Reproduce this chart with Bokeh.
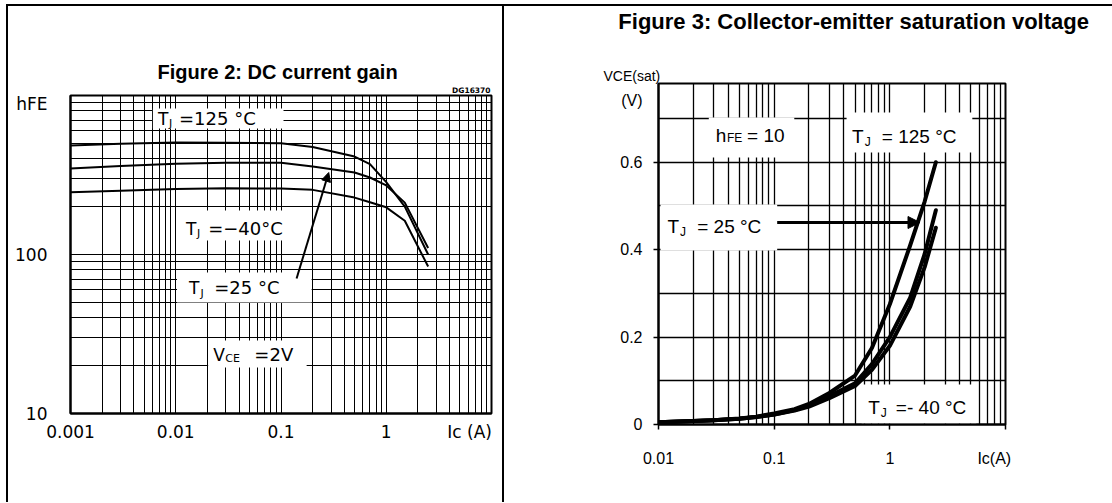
import math
from bokeh.plotting import figure
from bokeh.layouts import row, column
from bokeh.models import (Range1d, FixedTicker, NumeralTickFormatter, Label, Arrow, NormalHead,
                          Spacer, Title)
from bokeh.embed import file_html
from bokeh.resources import INLINE

# ---------------- Figure 2: DC current gain ----------------
ic_gain = [0.001, 0.003, 0.01, 0.03, 0.1, 0.2, 0.5, 0.7, 1.0, 1.5, 2.5]
hfe_125 = [485, 498, 506, 505, 500, 475, 413, 370, 285, 200, 100]
hfe_25 = [347, 360, 372, 377, 378, 358, 328, 305, 272, 212, 110]
hfe_m40 = [246, 252, 258, 261, 260, 255, 228, 213, 198, 163, 84]
gain_x_ticks = [0.001, 0.01, 0.1, 1]
gain_y_ticks = [10, 100]
gain_x_name = ("Ic (A)", 6.2)      # axis name placed on the tick row
gain_y_name = ("hFE", 890)

# ---------------- Figure 3: Collector-emitter saturation voltage ----------------
ic_sat = [0.01, 0.02, 0.03, 0.05, 0.07, 0.1, 0.15, 0.2, 0.3, 0.5, 0.7, 1.0, 1.5, 2.0, 2.5]
vce_25 = [0.005, 0.008, 0.010, 0.014, 0.018, 0.025, 0.035, 0.047, 0.072, 0.112, 0.175, 0.275, 0.41, 0.51, 0.60]
vce_125 = [0.005, 0.008, 0.010, 0.013, 0.017, 0.023, 0.033, 0.044, 0.065, 0.094, 0.138, 0.20, 0.29, 0.39, 0.49]
vce_m40 = [0.005, 0.008, 0.010, 0.013, 0.017, 0.023, 0.032, 0.041, 0.060, 0.088, 0.125, 0.18, 0.27, 0.36, 0.45]
sat_x_ticks = [0.01, 0.1, 1, 10]
sat_y_ticks = [0, 0.2, 0.4, 0.6]
sat_y_minor = [0.1, 0.3, 0.5, 0.7]
sat_x_name = ("Ic(A)", 8)
sat_y_name = ("(V)", 0.74)

# ---------------- layout (page pixels) ----------------
LEFT_GAP, TOP_GAP, BW = 6, 4, 2
CW1, CW2 = 494, 608         # canvas widths (CSS border is inside the element box)
PAGE_H = 502
S_TOP = TOP_GAP + BW        # first canvas row on the page
S1_BOT = 83                 # bottom of left title strip
S2_BOT = 64                 # bottom of right title strip
F1 = (70, 489, 95, 413)     # frame of left plot: left, right, top, bottom
F2 = (658, 1003, 83, 424)   # frame of right plot
O1X = LEFT_GAP + BW         # canvas left of the left column
O2X = O1X + CW1 + BW        # canvas left of the right column
X1, Y1 = (0.001, 10.0), (10.0, 1000.0)
X2, Y2 = (0.01, 10.0), (0.0, 0.78)

ARIAL = "Liberation Sans"
WIDE = "DejaVu Sans"
MID = {ARIAL: 0.35, WIDE: 0.346}   # baseline -> middle of text box, in em


def no_align(p):
    try:
        p.frame_align = False
    except Exception:
        pass


def conv1(px, py):
    l, r, t, b = F1
    x = 10 ** (math.log10(X1[0]) + (px - l) / (r - l) * (math.log10(X1[1]) - math.log10(X1[0])))
    y = 10 ** (math.log10(Y1[0]) + (b - py) / (b - t) * (math.log10(Y1[1]) - math.log10(Y1[0])))
    return x, y


def conv2(px, py):
    l, r, t, b = F2
    x = 10 ** (math.log10(X2[0]) + (px - l) / (r - l) * (math.log10(X2[1]) - math.log10(X2[0])))
    y = Y2[0] + (b - py) / (b - t) * (Y2[1] - Y2[0])
    return x, y


def lab(p, conv, px, py, text, size, font, bold=False, align="left", color="black"):
    # py is the wanted baseline; the label is anchored at the middle of its text box
    x, y = conv(px, py - MID[font] * size)
    p.add_layout(Label(x=x, y=y, text=text, text_font=font, text_font_size=f"{size}px",
                       text_font_style="bold" if bold else "normal", text_align=align,
                       text_baseline="middle", text_color=color))


def box(p, conv, x0, y0, x1, y1):
    l, t = conv(x0, y0)
    r, b = conv(x1, y1)
    p.quad(left=[l], right=[r], top=[t], bottom=[b], fill_color="white", line_color=None)


def strip(cw, bottom, ox):
    h = bottom - S_TOP
    s = figure(width=cw + BW, height=h + BW, x_range=Range1d(0, cw), y_range=Range1d(h, 0),
               toolbar_location=None, output_backend="svg", min_border=0,
               min_border_left=0, min_border_right=0, min_border_top=0, min_border_bottom=0,
               x_axis_location=None, y_axis_location=None)
    no_align(s)
    s.outline_line_color = None
    s.grid.visible = False
    s.background_fill_color = "white"
    s.border_fill_color = "white"
    s.styles = {"border-left": f"{BW}px solid black", "border-top": f"{BW}px solid black"}
    conv = lambda px, py: (px - ox, py - S_TOP)
    return s, conv


# ================= left column =================
s1, sconv1 = strip(CW1, S1_BOT, O1X)
lab(s1, sconv1, 276, 77, "Figure 2: DC current gain", 20, ARIAL, bold=True, align="center")

p1 = figure(width=CW1 + BW, height=PAGE_H - S1_BOT, x_axis_type="log", y_axis_type="log",
            x_range=Range1d(*X1), y_range=Range1d(*Y1),
            toolbar_location=None, output_backend="svg",
            min_border_left=F1[0] - O1X, min_border_right=O1X + CW1 - F1[1],
            min_border_top=F1[2] - S1_BOT, min_border_bottom=PAGE_H - F1[3])
no_align(p1)
p1.styles = {"border-left": f"{BW}px solid black"}
p1.outline_line_color = "black"
p1.outline_line_width = 2
p1.background_fill_color = "white"
p1.border_fill_color = "white"
p1.add_layout(Title(text="DG16370", align="right", offset=1, vertical_align="bottom", standoff=1,
                    text_font=WIDE, text_font_size="7.5px", text_font_style="bold",
                    text_color="black"), "above")

minor_x1 = [m * 10 ** e for e in range(-3, 1) for m in range(2, 10)]
minor_y1 = [m * 10 ** e for e in range(1, 3) for m in range(2, 10)]
p1.xaxis.ticker = FixedTicker(ticks=gain_x_ticks + [gain_x_name[1]])
p1.yaxis.ticker = FixedTicker(ticks=gain_y_ticks + [gain_y_name[1]])
p1.xaxis.formatter = NumeralTickFormatter(format="0.[000]")
p1.yaxis.formatter = NumeralTickFormatter(format="0")
p1.xaxis.major_label_overrides = {gain_x_name[1]: gain_x_name[0]}
p1.yaxis.major_label_overrides = {gain_y_name[1]: gain_y_name[0]}
p1.xgrid.ticker = FixedTicker(ticks=gain_x_ticks, minor_ticks=minor_x1)
p1.ygrid.ticker = FixedTicker(ticks=gain_y_ticks, minor_ticks=minor_y1)
for ax in (p1.xaxis[0], p1.yaxis[0]):
    ax.major_tick_out = 0
    ax.major_tick_in = 0
    ax.minor_tick_out = 0
    ax.minor_tick_in = 0
    ax.axis_line_width = 2
    ax.axis_line_color = "black"
    ax.major_label_text_font = WIDE
    ax.major_label_text_font_size = "17px"
    ax.major_label_text_color = "black"
p1.xaxis.major_label_standoff = 8
p1.yaxis.major_label_standoff = 23
for g in (p1.xgrid[0], p1.ygrid[0]):
    g.grid_line_color = "black"
    g.grid_line_width = 1
    g.minor_grid_line_color = "black"
    g.minor_grid_line_width = 1

box(p1, conv1, 152, 108, 282, 128)
box(p1, conv1, 178, 210, 292, 240)
box(p1, conv1, 176, 272, 310, 302)
box(p1, conv1, 207, 340, 305, 367)

for ys in (hfe_125, hfe_25, hfe_m40):
    p1.line(ic_gain, ys, line_color="black", line_width=2)

lab(p1, conv1, 157, 124, "T", 17, WIDE)
lab(p1, conv1, 168, 127, "J", 11, WIDE)
lab(p1, conv1, 178, 124, "=125 °C", 18, WIDE)

lab(p1, conv1, 185, 234, "T", 17, WIDE)
lab(p1, conv1, 196, 237, "J", 11, WIDE)
lab(p1, conv1, 207, 234, "=−40°C", 18, WIDE)

lab(p1, conv1, 188, 293.5, "T", 17, WIDE)
lab(p1, conv1, 199.5, 296.5, "J", 11, WIDE)
lab(p1, conv1, 213, 293.5, "=25 °C", 18, WIDE)

lab(p1, conv1, 212, 360, "V", 17, WIDE)
lab(p1, conv1, 224, 362, "CE", 11, WIDE)
lab(p1, conv1, 253, 360, "=2V", 18, WIDE)

xs, ys = conv1(295, 278)
xe, ye = conv1(327, 172)
p1.add_layout(Arrow(end=NormalHead(size=9, fill_color="black", line_color="black", line_width=1),
                    x_start=xs, y_start=ys, x_end=xe, y_end=ye, line_width=2, line_color="black"))

# ================= right column =================
s2, sconv2 = strip(CW2, S2_BOT, O2X)
lab(s2, sconv2, 852, 28, "Figure 3: Collector-emitter saturation voltage", 22, ARIAL, bold=True, align="center")

p2 = figure(width=CW2 + BW, height=PAGE_H - S2_BOT, x_axis_type="log",
            x_range=Range1d(*X2), y_range=Range1d(*Y2),
            toolbar_location=None, output_backend="svg",
            min_border_left=F2[0] - O2X, min_border_right=O2X + CW2 - F2[1],
            min_border_top=F2[2] - S2_BOT, min_border_bottom=PAGE_H - F2[3])
no_align(p2)
p2.styles = {"border-left": f"{BW}px solid black"}
p2.outline_line_color = "black"
p2.outline_line_width = 2
p2.background_fill_color = "white"
p2.border_fill_color = "white"
p2.add_layout(Title(text="VCE(sat)", align="left", offset=603 - F2[0], vertical_align="bottom", standoff=0,
                    text_font=ARIAL, text_font_size="14px", text_font_style="normal",
                    text_color="black"), "above")

minor_x2 = [m * 10 ** e for e in range(-2, 1) for m in range(2, 10)]
# labelled ticks as majors (no marks), decade marks as minors
p2.xaxis.ticker = FixedTicker(ticks=sat_x_ticks[:-1] + [sat_x_name[1]], minor_ticks=sat_x_ticks)
p2.yaxis.ticker = FixedTicker(ticks=sat_y_ticks + [sat_y_name[1]], minor_ticks=sat_y_ticks)
p2.xaxis.formatter = NumeralTickFormatter(format="0.[00]")
p2.yaxis.formatter = NumeralTickFormatter(format="0.[0]")
p2.xaxis.major_label_overrides = {sat_x_name[1]: sat_x_name[0]}
p2.yaxis.major_label_overrides = {sat_y_name[1]: sat_y_name[0]}
p2.xgrid.ticker = FixedTicker(ticks=sat_x_ticks, minor_ticks=minor_x2)
p2.ygrid.ticker = FixedTicker(ticks=sat_y_ticks, minor_ticks=sat_y_minor)
for ax in (p2.xaxis[0], p2.yaxis[0]):
    ax.major_tick_out = 0
    ax.major_tick_in = 0
    ax.minor_tick_out = 5
    ax.minor_tick_in = 0
    ax.minor_tick_line_width = 1.5
    ax.minor_tick_line_color = "black"
    ax.axis_line_width = 2
    ax.axis_line_color = "black"
    ax.major_label_text_font = ARIAL
    ax.major_label_text_font_size = "16px"
    ax.major_label_text_color = "black"
p2.xaxis.major_label_standoff = 20
p2.yaxis.major_label_standoff = 11
for g in (p2.xgrid[0], p2.ygrid[0]):
    g.grid_line_color = "black"
    g.grid_line_width = 1.3
    g.minor_grid_line_color = "black"
    g.minor_grid_line_width = 1.3

box(p2, conv2, 708, 117, 793, 157)
box(p2, conv2, 845, 112, 970, 152)
box(p2, conv2, 660, 204, 776, 250)
box(p2, conv2, 860, 384, 974, 423)

for ys in (vce_25, vce_125, vce_m40):
    p2.line(ic_sat, ys, line_color="black", line_width=4, line_join="round", line_cap="round")

lab(p2, conv2, 715, 142, "h", 19, ARIAL)
lab(p2, conv2, 726, 142, "FE", 12, ARIAL)
lab(p2, conv2, 746, 142, "= 10", 19, ARIAL)

lab(p2, conv2, 850.5, 143, "T", 19, ARIAL)
lab(p2, conv2, 863, 146, "J", 12, ARIAL)
lab(p2, conv2, 880, 143, "= 125 °C", 19, ARIAL)

lab(p2, conv2, 667, 233, "T", 19, ARIAL)
lab(p2, conv2, 679.5, 236, "J", 12, ARIAL)
lab(p2, conv2, 696.5, 233, "= 25 °C", 19, ARIAL)

lab(p2, conv2, 866.5, 414, "T", 19, ARIAL)
lab(p2, conv2, 879, 417, "J", 12, ARIAL)
lab(p2, conv2, 894, 414, "=- 40 °C", 19, ARIAL)

xs, ys = conv2(776, 222)
xe, ye = conv2(918, 222)
p2.add_layout(Arrow(end=NormalHead(size=12, fill_color="black", line_color="black", line_width=1),
                    x_start=xs, y_start=ys, x_end=xe, y_end=ye, line_width=3, line_color="black"))

layout = column(
    Spacer(width=LEFT_GAP + 2 * BW + CW1 + CW2, height=TOP_GAP),
    row(Spacer(width=LEFT_GAP, height=PAGE_H - TOP_GAP),
        column(s1, p1),
        column(s2, p2)),
)
open("out.html", "w").write(file_html(layout, INLINE))
